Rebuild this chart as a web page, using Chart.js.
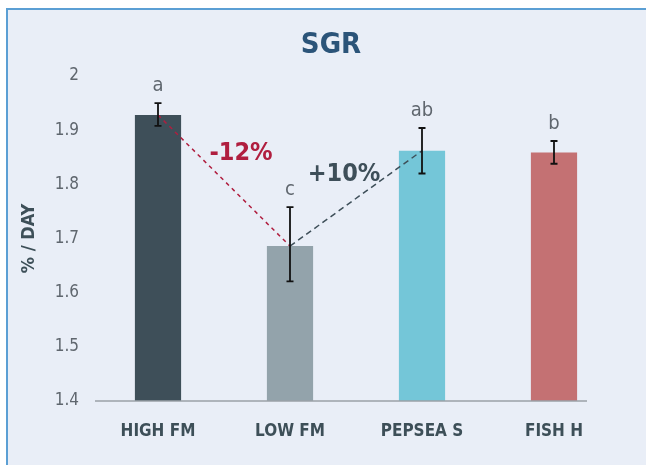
<!DOCTYPE html>
<html lang="en">
<head>
<meta charset="UTF-8">
<title>SGR</title>
<style>
  body { margin: 0; background: #fff; }
</style>
</head>
<body>
<canvas id="sgrChart" width="646" height="465"></canvas>
<script src="https://cdn.jsdelivr.net/npm/chart.js"></script>
<script>
const groups = ['HIGH FM', 'LOW FM', 'PEPSEA S', 'FISH H'];
const sgr = [1.928, 1.686, 1.862, 1.859];      // % / day
const errLow = [1.908, 1.621, 1.820, 1.838];
const errHigh = [1.950, 1.758, 1.904, 1.880];
const letters = ['a', 'c', 'ab', 'b'];
const barColors = ['#3e4f59', '#93a3ab', '#74c6d8', '#c47173'];
const changeLabels = ['-12%', '+10%'];   // HIGH FM -> LOW FM, LOW FM -> PEPSEA S

const FONT = "'DejaVu Sans Condensed', 'Liberation Sans Narrow', 'DejaVu Sans', sans-serif";

const decor = {
  id: 'decor',
  beforeDraw(chart) {
    const c = chart.ctx;
    c.save();
    c.fillStyle = '#ffffff';
    c.fillRect(0, 0, chart.width, chart.height);
    c.fillStyle = '#e9eef7';
    c.fillRect(6, 9, chart.width - 6, chart.height - 9);
    c.strokeStyle = '#5b9fd4';
    c.lineWidth = 2;
    c.beginPath();
    c.moveTo(6, 9); c.lineTo(chart.width, 9);
    c.moveTo(7, 8); c.lineTo(7, chart.height);
    c.stroke();
    c.restore();
  },
  afterDatasetsDraw(chart) {
    const c = chart.ctx;
    const x = chart.scales.x, y = chart.scales.y;
    const px = i => x.getPixelForValue(i);
    const py = v => y.getPixelForValue(v);
    c.save();

    // base line
    c.strokeStyle = '#9aa1a7';
    c.lineWidth = 1.5;
    c.beginPath();
    c.moveTo(95, py(1.4)); c.lineTo(587, py(1.4));
    c.stroke();

    // dashed change lines
    const seg = [[0, 1, '#b01e3f', [4, 4]], [1, 2, '#3e4f59', [6, 4]]];
    seg.forEach(([a, b, col, dash]) => {
      c.strokeStyle = col;
      c.lineWidth = 1.5;
      c.setLineDash(dash);
      c.beginPath();
      c.moveTo(px(a), py(sgr[a]));
      c.lineTo(px(b), py(sgr[b]));
      c.stroke();
    });
    c.setLineDash([]);

    // error bars
    c.strokeStyle = '#111';
    c.lineWidth = 1.8;
    groups.forEach((g, i) => {
      const cx = px(i);
      c.beginPath();
      c.moveTo(cx, py(errLow[i])); c.lineTo(cx, py(errHigh[i]));
      c.moveTo(cx - 3.5, py(errLow[i])); c.lineTo(cx + 3.5, py(errLow[i]));
      c.moveTo(cx - 3.5, py(errHigh[i])); c.lineTo(cx + 3.5, py(errHigh[i]));
      c.stroke();
    });

    // significance letters
    c.fillStyle = '#5f666e';
    c.font = '20px ' + FONT;
    c.textAlign = 'center';
    c.textBaseline = 'alphabetic';
    letters.forEach((t, i) => c.fillText(t, px(i), py(errHigh[i]) - 12));

    // change labels
    c.font = 'bold 25px ' + FONT;
    c.fillStyle = '#b01e3f';
    c.fillText(changeLabels[0], (px(0) + px(1)) / 2 + 17, (py(sgr[0]) + py(sgr[1])) / 2 - 21);
    c.fillStyle = '#3e4f59';
    c.fillText(changeLabels[1], (px(1) + px(2)) / 2 - 12, (py(sgr[1]) + py(sgr[2])) / 2 - 17);

    // title
    c.font = 'bold 29px ' + FONT;
    c.fillStyle = '#2b5479';
    c.fillText('SGR', 331, 53);
    c.restore();
  }
};

new Chart(document.getElementById('sgrChart'), {
  type: 'bar',
  data: {
    labels: groups,
    datasets: [{
      data: sgr,
      backgroundColor: barColors,
      barPercentage: 0.35,
      categoryPercentage: 1
    }]
  },
  options: {
    responsive: false,
    animation: false,
    devicePixelRatio: 1,
    layout: { padding: { top: 76, right: 26, bottom: 0, left: 0 } },
    scales: {
      x: {
        offset: true,
        grid: { display: false, drawTicks: false },
        border: { display: false },
        ticks: { color: '#3d4f58', font: { family: FONT, size: 17, weight: 'bold' }, padding: 20 },
        afterFit: s => { s.height = 64; }
      },
      y: {
        min: 1.4,
        max: 2,
        grid: { display: false, drawTicks: false },
        border: { display: false },
        ticks: {
          stepSize: 0.1,
          padding: 13,
          color: '#5f666e',
          font: { family: FONT, size: 17 },
          callback: v => String(Number(v.toFixed(1)))
        },
        title: {
          display: true,
          text: '% / DAY',
          color: '#3d4f58',
          font: { family: FONT, size: 18, weight: 'bold' },
          padding: { top: 19, bottom: 0 }
        },
        afterFit: s => { s.width = 92; }
      }
    },
    plugins: {
      legend: { display: false },
      tooltip: { enabled: false }
    }
  },
  plugins: [decor]
});
</script>
</body>
</html>
